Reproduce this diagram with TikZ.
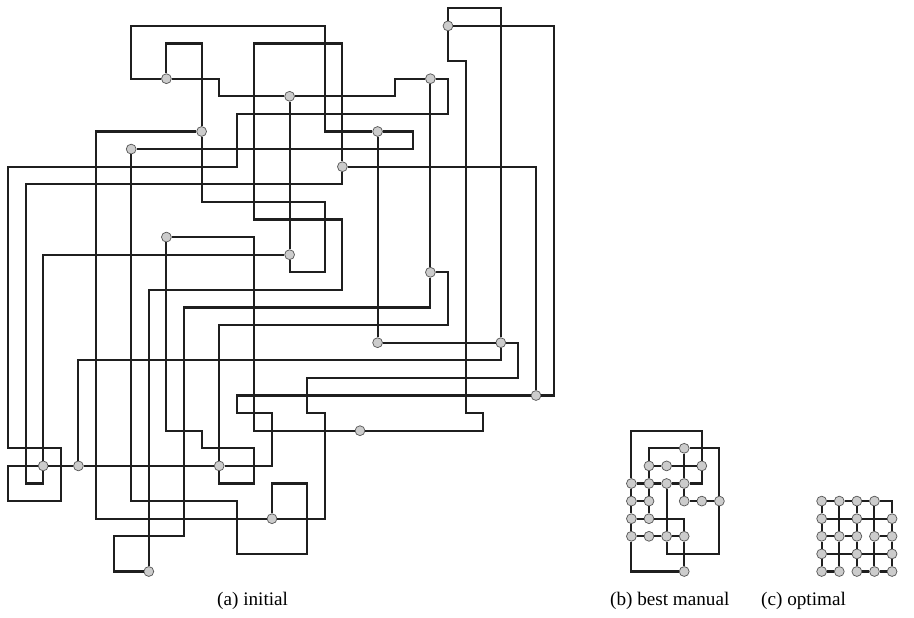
\documentclass[tikz,border=0pt]{standalone}
\usepackage{fontspec}
\setmainfont{Liberation Serif}
\begin{document}
\begin{tikzpicture}[x=0.5cm, y=-0.5cm,
    vtx/.style={circle, draw=black!65, fill=black!20, line width=0.6pt, minimum size=0.28cm, inner sep=0pt},
    wire/.style={black!88, line width=1.65pt},
    subcap/.style={font=\fontsize{15.5}{18}\selectfont}]
    \useasboundingbox (-0.4545,-0.4716) rectangle (51.477,34.64);

    % (a) initial: vertices
    \node[vtx] (a1) at (25,1) {};
    \node[vtx] (a2) at (9,4) {};
    \node[vtx] (a3) at (16,5) {};
    \node[vtx] (a4) at (24,4) {};
    \node[vtx] (a5) at (11,7) {};
    \node[vtx] (a6) at (7,8) {};
    \node[vtx] (a7) at (21,7) {};
    \node[vtx] (a8) at (19,9) {};
    \node[vtx] (a9) at (9,13) {};
    \node[vtx] (a10) at (16,14) {};
    \node[vtx] (a11) at (24,15) {};
    \node[vtx] (a12) at (21,19) {};
    \node[vtx] (a13) at (28,19) {};
    \node[vtx] (a14) at (30,22) {};
    \node[vtx] (a15) at (20,24) {};
    \node[vtx] (a16) at (2,26) {};
    \node[vtx] (a17) at (4,26) {};
    \node[vtx] (a18) at (12,26) {};
    \node[vtx] (a19) at (15,29) {};
    \node[vtx] (a20) at (8,32) {};

    % (a) initial: wires
    \draw[wire] (a2) -- (7,4) -- (7,1) -- (18,1) -- (18,7) -- (a7);
    \draw[wire] (a2) -- (9,2) -- (11,2) -- (a5);
    \draw[wire] (a2) -- (12,4) -- (12,5) -- (a3);
    \draw[wire] (a3) -- (22,5) -- (22,4) -- (a4);
    \draw[wire] (a4) -- (25,4) -- (25,6) -- (13,6) -- (13,9) -- (0,9) -- (0,25)
        -- (3,25) -- (3,28) -- (0,28) -- (0,26) -- (a16);
    \draw[wire] (a5) -- (11,11) -- (18,11) -- (18,15) -- (16,15) -- (a10);
    \draw[wire] (a3) -- (a10);
    \draw[wire] (a16) -- (2,27) -- (1,27) -- (1,10) -- (19,10) -- (a8);
    \draw[wire] (a10) -- (2,14) -- (a16);
    \draw[wire] (a16) -- (a17);
    \draw[wire] (a17) -- (4,20) -- (28,20) -- (a13);
    \draw[wire] (a17) -- (a18);
    \draw[wire] (a18) -- (15,26) -- (15,23) -- (13,23) -- (13,22) -- (a14);
    \draw[wire] (a8) -- (30,9) -- (a14);
    \draw[wire] (a1) -- (31,1) -- (31,22) -- (a14);
    \draw[wire] (a1) -- (25,0) -- (28,0) -- (a13);
    \draw[wire] (a1) -- (25,3) -- (26,3) -- (26,23) -- (27,23) -- (27,24) -- (a15);
    \draw[wire] (a9) -- (14,13) -- (14,24) -- (a15);
    \draw[wire] (a8) -- (19,2) -- (14,2) -- (14,12) -- (19,12) -- (19,16) -- (8,16) -- (a20);
    \draw[wire] (a20) -- (6,32) -- (6,30) -- (10,30) -- (10,17) -- (24,17) -- (a11);
    \draw[wire] (a4) -- (a11);
    \draw[wire] (a11) -- (25,15) -- (25,18) -- (12,18) -- (a18);
    \draw[wire] (a9) -- (9,24) -- (11,24) -- (11,25) -- (14,25) -- (14,27) -- (12,27) -- (a18);
    \draw[wire] (a19) -- (18,29) -- (18,23) -- (17,23) -- (17,21) -- (29,21) -- (29,19) -- (a13);
    \draw[wire] (a12) -- (a13);
    \draw[wire] (a6) -- (7,28) -- (13,28) -- (13,31) -- (17,31) -- (17,27) -- (15,27) -- (a19);
    \draw[wire] (a5) -- (5,7) -- (5,29) -- (a19);
    \draw[wire] (a6) -- (23,8) -- (23,7) -- (a7);
    \draw[wire] (a7) -- (a12);

    % (b) best manual
    \begin{scope}[shift={(35.42,24)}]
        \node[vtx] (b1) at (3,1) {};
        \node[vtx] (b2) at (1,2) {};
        \node[vtx] (b3) at (2,2) {};
        \node[vtx] (b4) at (4,2) {};
        \node[vtx] (b5) at (0,3) {};
        \node[vtx] (b6) at (1,3) {};
        \node[vtx] (b7) at (2,3) {};
        \node[vtx] (b8) at (3,3) {};
        \node[vtx] (b9) at (0,4) {};
        \node[vtx] (b10) at (1,4) {};
        \node[vtx] (b11) at (3,4) {};
        \node[vtx] (b12) at (4,4) {};
        \node[vtx] (b13) at (5,4) {};
        \node[vtx] (b14) at (0,5) {};
        \node[vtx] (b15) at (1,5) {};
        \node[vtx] (b16) at (0,6) {};
        \node[vtx] (b17) at (1,6) {};
        \node[vtx] (b18) at (2,6) {};
        \node[vtx] (b19) at (3,6) {};
        \node[vtx] (b20) at (3,8) {};

        \draw[wire] (b5) -- (0,0) -- (4,0) -- (b4);
        \draw[wire] (b4) -- (4,3) -- (b8);
        \draw[wire] (b1) -- (1,1) -- (b2);
        \draw[wire] (b1) -- (5,1) -- (b13);
        \draw[wire] (b1) -- (b8);
        \draw[wire] (b8) -- (b11);
        \draw[wire] (b2) -- (b3);
        \draw[wire] (b3) -- (b4);
        \draw[wire] (b5) -- (b6);
        \draw[wire] (b6) -- (b7);
        \draw[wire] (b7) -- (b8);
        \draw[wire] (b2) -- (b6);
        \draw[wire] (b6) -- (b10);
        \draw[wire] (b10) -- (b15);
        \draw[wire] (b5) -- (b9);
        \draw[wire] (b9) -- (b14);
        \draw[wire] (b14) -- (b16);
        \draw[wire] (b9) -- (b10);
        \draw[wire] (b11) -- (b12);
        \draw[wire] (b12) -- (b13);
        \draw[wire] (b14) -- (b15);
        \draw[wire] (b15) -- (3,5) -- (b19);
        \draw[wire] (b16) -- (b17);
        \draw[wire] (b17) -- (b18);
        \draw[wire] (b18) -- (b19);
        \draw[wire] (b7) -- (b18);
        \draw[wire] (b18) -- (2,7) -- (5,7) -- (b13);
        \draw[wire] (b16) -- (0,8) -- (b20);
        \draw[wire] (b19) -- (b20);
    \end{scope}

    % (c) optimal
    \begin{scope}[shift={(46.23,28)}]
        \node[vtx] (c1) at (0,0) {};
        \node[vtx] (c2) at (1,0) {};
        \node[vtx] (c3) at (2,0) {};
        \node[vtx] (c4) at (3,0) {};
        \node[vtx] (c5) at (0,1) {};
        \node[vtx] (c6) at (2,1) {};
        \node[vtx] (c7) at (4,1) {};
        \node[vtx] (c8) at (0,2) {};
        \node[vtx] (c9) at (1,2) {};
        \node[vtx] (c10) at (2,2) {};
        \node[vtx] (c11) at (3,2) {};
        \node[vtx] (c12) at (4,2) {};
        \node[vtx] (c13) at (0,3) {};
        \node[vtx] (c14) at (2,3) {};
        \node[vtx] (c15) at (4,3) {};
        \node[vtx] (c16) at (0,4) {};
        \node[vtx] (c17) at (1,4) {};
        \node[vtx] (c18) at (2,4) {};
        \node[vtx] (c19) at (3,4) {};
        \node[vtx] (c20) at (4,4) {};

        \draw[wire] (c1) -- (c2);
        \draw[wire] (c2) -- (c3);
        \draw[wire] (c3) -- (c4);
        \draw[wire] (c4) -- (4,0) -- (c7);
        \draw[wire] (c5) -- (c6);
        \draw[wire] (c6) -- (c7);
        \draw[wire] (c8) -- (c9);
        \draw[wire] (c9) -- (c10);
        \draw[wire] (c11) -- (c12);
        \draw[wire] (c13) -- (c14);
        \draw[wire] (c14) -- (c15);
        \draw[wire] (c16) -- (c17);
        \draw[wire] (c18) -- (c19);
        \draw[wire] (c19) -- (c20);
        \draw[wire] (c1) -- (c5);
        \draw[wire] (c5) -- (c8);
        \draw[wire] (c8) -- (c13);
        \draw[wire] (c13) -- (c16);
        \draw[wire] (c2) -- (c9);
        \draw[wire] (c9) -- (c17);
        \draw[wire] (c3) -- (c6);
        \draw[wire] (c6) -- (c10);
        \draw[wire] (c10) -- (c14);
        \draw[wire] (c14) -- (c18);
        \draw[wire] (c4) -- (c11);
        \draw[wire] (c11) -- (c19);
        \draw[wire] (c7) -- (c12);
        \draw[wire] (c12) -- (c15);
        \draw[wire] (c15) -- (c20);
    \end{scope}

    % Captions
    \node[subcap] (capa) at (13.9,33.65) {(a) initial};
    \node[subcap] (capb) at (37.6,33.65) {(b) best manual};
    \node[subcap] (capc) at (45.2,33.65) {(c) optimal};

\end{tikzpicture}
\end{document}
